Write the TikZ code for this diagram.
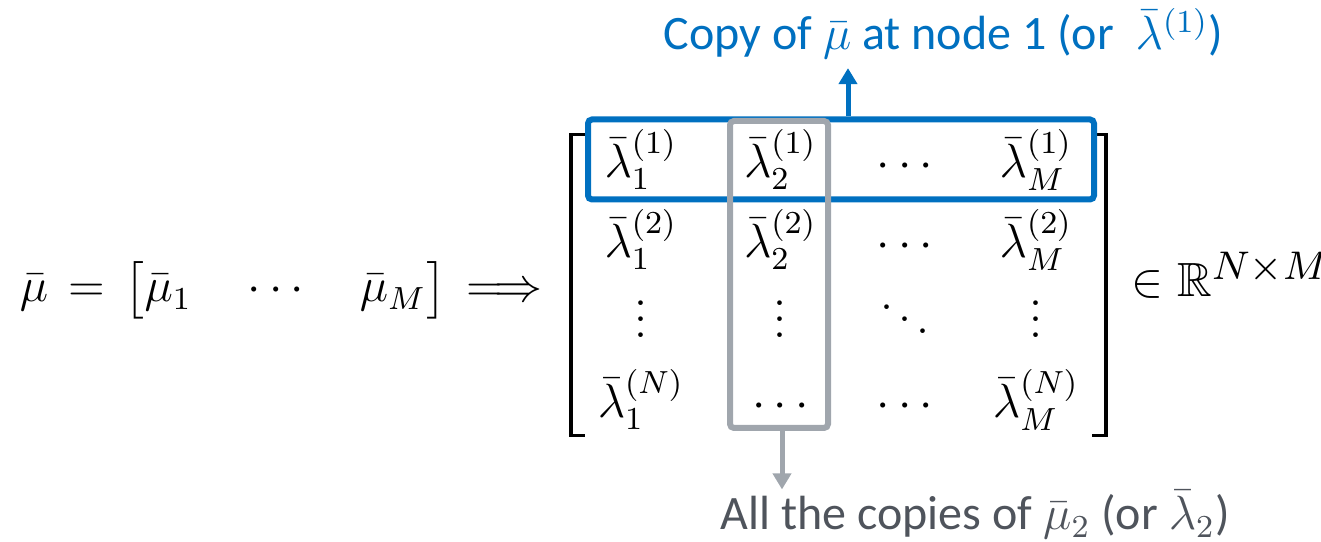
\documentclass[tikz,border=0pt,12pt]{standalone}
\usepackage{amsmath}
\usepackage{amssymb}
\usepackage{fontspec}
\newfontfamily\lblfont{Carlito}
\usetikzlibrary{arrows.meta,positioning,matrix,calc}
\definecolor{selBlue}{HTML}{0070C0}
\definecolor{selGray}{HTML}{A0A6AD}
\definecolor{txtGray}{HTML}{4F545C}
\tikzset{
  selbox/.style={draw, line width=1.5pt, rounded corners=1pt, inner sep=0pt},
  rowbox/.style={selbox, draw=selBlue},
  colbox/.style={selbox, draw=selGray},
  mbracket/.style={draw, line width=0.8pt},
  callout/.style={-{Triangle[length=4pt, width=4.5pt]}, line width=1.25pt},
  lbl/.style={font=\lblfont\fontsize{12}{14}\selectfont, inner sep=0pt}
}
\begin{document}
\begin{tikzpicture}[x=0.25pt, y=0.25pt]
  \useasboundingbox (0,0) rectangle (1321,542);
  % vector to be copied
  \node[anchor=base west, inner sep=0pt] (vec) at (19,240)
    {$\thickmuskip=7.5mu \bar{\mu} = \big[\bar{\mu}_1 \quad \cdots \quad \bar{\mu}_M\big] \Longrightarrow$};
  % stacked copies, one row per node
  \matrix[matrix of math nodes,
    nodes={text height=10pt, text depth=3.5pt, inner sep=0pt},
    column sep=15pt, row sep=6.5pt, inner xsep=6.5pt, inner ysep=0.75pt] (lam) at (838.5,257) {
    \bar{\lambda}_1^{(1)} & \bar{\lambda}_2^{(1)} & \cdots & \bar{\lambda}_M^{(1)} \\
    \bar{\lambda}_1^{(2)} & \bar{\lambda}_2^{(2)} & \cdots & \bar{\lambda}_M^{(2)} \\
    \vdots & \vdots & \ddots & \vdots \\
    \bar{\lambda}_1^{(N)} & \cdots & \cdots & \bar{\lambda}_M^{(N)} \\
  };
  \draw[mbracket] ([xshift=3.5pt]lam.north west) -| (lam.south west) -- ++(3.5pt,0);
  \draw[mbracket] ([xshift=-3.5pt]lam.north east) -| (lam.south east) -- ++(-3.5pt,0);
  \node[anchor=base west, inner sep=0pt] (dom) at (1131,245)
    {$\in \mathbb{R}^{\scalebox{1.25}{$\scriptstyle N\times M$}}$};
  % selections
  \node[rowbox, minimum width=126.5pt, minimum height=20pt] (rowsel) at (841,382.5) {};
  \node[colbox, minimum width=24.5pt, minimum height=76.75pt] (colsel) at (779,267.5) {};
  % callouts
  \node[lbl, text=selBlue, anchor=base west] (rowlbl) at (663,492)
    {Copy of $\bar{\mu}$ at node 1 (or \ $\bar{\lambda}^{(1)}$)};
  \node[lbl, text=txtGray, anchor=base west] (collbl) at (720,12)
    {All the copies of $\bar{\mu}_2$ (or $\bar{\lambda}_2$)};
  \draw[callout, selBlue, shorten >=2pt] ([xshift=1.75pt]rowsel.north) -- ([xshift=1.75pt]rowsel.north |- rowlbl.south);
  \draw[callout, selGray] ([xshift=0.75pt]colsel.south) -- ([xshift=0.75pt]colsel.south |- collbl.north);
\end{tikzpicture}
\end{document}
